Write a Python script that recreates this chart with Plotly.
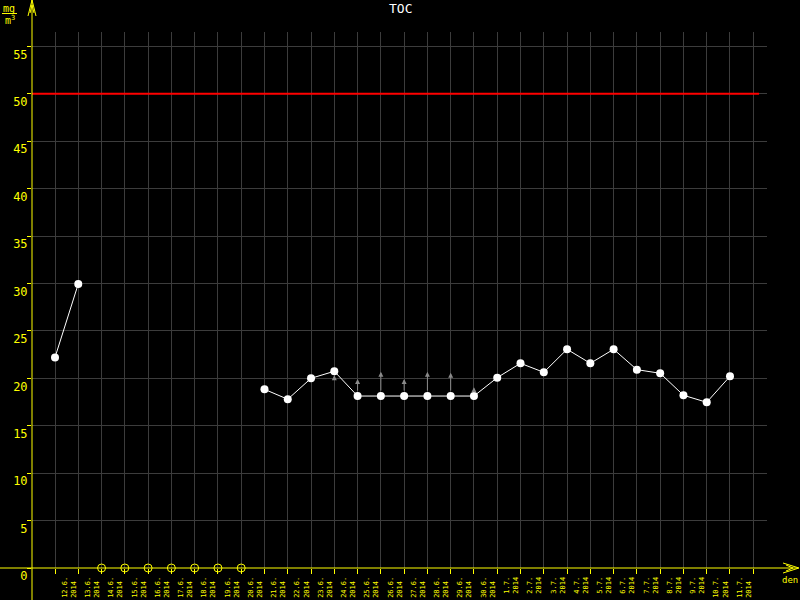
import plotly.graph_objects as go

# ---------------- data ----------------
dates = ["12.6.", "13.6.", "14.6.", "15.6.", "16.6.", "17.6.", "18.6.", "19.6.", "20.6.",
         "21.6.", "22.6.", "23.6.", "24.6.", "25.6.", "26.6.", "27.6.", "28.6.", "29.6.",
         "30.6.", "1.7.", "2.7.", "3.7.", "4.7.", "5.7.", "6.7.", "7.7.", "8.7.", "9.7.",
         "10.7.", "11.7."]
year = "2014"
toc = [22.2, 29.95, None, None, None, None, None, None, None,
       18.84, 17.79, 20.0, 20.74, 18.13, 18.13, 18.13, 18.13, 18.13,
       18.13, 20.07, 21.58, 20.63, 23.06, 21.58, 23.06, 20.91, 20.53, 18.21,
       17.47, 20.21]
missing_idx = [2, 3, 4, 5, 6, 7, 8]
limit_value = 50
arrow_idx = [12, 13, 14, 15, 16, 17, 18]
arrow_from = [19.8, 18.13, 18.13, 18.13, 18.13, 18.13, 18.13]
arrow_to = [20.74, 19.93, 20.7, 19.93, 20.7, 20.59, 19.05]
y_ticks = [0, 5, 10, 15, 20, 25, 30, 35, 40, 45, 50, 55]

# ---------------- geometry helpers ----------------
W, H = 800, 600
L, R, T, B = 32, 767, 32, 568


def px(x):
    return (x - L) / (R - L)


def py(y):
    return (B - y) / (B - T)


YEL = "#ffff00"
GRID = "#3c3c3c"
MONO = "DejaVu Sans Mono"

idx = list(range(len(dates)))
ticktext = []
for d in dates:
    y = year + "\u00a0" * max(0, len(d) - len(year))
    ticktext.append(d + "<br>" + y)

fig = go.Figure()

fig.add_trace(go.Scatter(
    x=idx, y=toc, mode="lines+markers",
    line=dict(color="white", width=1),
    marker=dict(color="white", size=8),
    connectgaps=False, showlegend=False, hoverinfo="skip"))

fig.add_trace(go.Scatter(
    x=missing_idx, y=[0] * len(missing_idx), mode="markers",
    marker=dict(symbol="circle-open", color=YEL, size=8, line=dict(width=1, color=YEL)),
    cliponaxis=False, showlegend=False, hoverinfo="skip"))

# arrows
for i, a0, a1 in zip(arrow_idx, arrow_from, arrow_to):
    fig.add_annotation(x=i, y=a1, ax=i, ay=a0, xref="x", yref="y", axref="x", ayref="y",
                       text="", showarrow=True, arrowhead=2, arrowsize=1, arrowwidth=1,
                       arrowcolor="#8a8a8a", standoff=4 if i == 12 else 0,
                       startstandoff=0 if i == 12 else 4)

shapes = []
# limit line
shapes.append(dict(type="line", xref="x", yref="y", x0=-0.988, x1=30.25,
                   y0=limit_value, y1=limit_value, line=dict(color="#ff0000", width=2),
                   layer="above"))
# axis lines
shapes.append(dict(type="line", xref="paper", yref="paper", x0=0, x1=0,
                   y0=py(0), y1=py(600), line=dict(color=YEL, width=1), layer="above"))
shapes.append(dict(type="line", xref="paper", yref="paper", x0=px(0), x1=px(798),
                   y0=0, y1=0, line=dict(color=YEL, width=1), layer="above"))


def seg(p0, p1):
    return dict(type="line", xref="paper", yref="paper", x0=px(p0[0]), y0=py(p0[1]),
                x1=px(p1[0]), y1=py(p1[1]), line=dict(color=YEL, width=1), layer="above")


# top arrow
shapes += [seg((32, 0), (28, 16)), seg((32, 0), (36, 16)),
           seg((32, 5), (30, 13)), seg((32, 5), (34, 13))]
# right arrow
shapes += [seg((799, 568), (783, 563)), seg((799, 568), (783, 573)),
           seg((793, 568), (786, 565)), seg((793, 568), (786, 571))]
# mg/m3 fraction line
shapes.append(dict(type="line", xref="paper", yref="paper", x0=px(2), x1=px(17),
                   y0=py(13.5), y1=py(13.5), line=dict(color=YEL, width=1)))

fig.update_layout(shapes=shapes)

fig.add_annotation(x=px(400), y=py(8), xref="paper", yref="paper", text="TOC",
                   showarrow=False, font=dict(family=MONO, size=13, color="white"),
                   xanchor="center", yanchor="middle")
fig.add_annotation(x=px(790), y=py(580), xref="paper", yref="paper", text="den",
                   showarrow=False, font=dict(family=MONO, size=9, color=YEL),
                   xanchor="center", yanchor="middle")
fig.add_annotation(x=px(9), y=py(8), xref="paper", yref="paper", text="mg",
                   showarrow=False, font=dict(family=MONO, size=10, color=YEL),
                   xanchor="center", yanchor="middle")
fig.add_annotation(x=px(10), y=py(20), xref="paper", yref="paper", text="m<sup>3</sup>",
                   showarrow=False, font=dict(family=MONO, size=10, color=YEL),
                   xanchor="center", yanchor="middle")

fig.update_xaxes(range=[-0.988, 30.59], tickvals=idx + [30], ticktext=ticktext + [""],
                 tickangle=-90, showgrid=True, gridcolor=GRID, gridwidth=1,
                 ticks="outside", ticklen=5, tickcolor=YEL, tickwidth=1,
                 tickfont=dict(family=MONO, size=7, color=YEL), automargin=False,
                 zeroline=False, showline=False, ticklabelshift=14, ticklabelstandoff=0,
                 fixedrange=True)
fig.update_yaxes(range=[0, 56.51], tickvals=y_ticks, showgrid=True, gridcolor=GRID,
                 gridwidth=1, ticks="outside", ticklen=4, tickcolor=YEL, tickwidth=1,
                 tickfont=dict(family=MONO, size=12, color=YEL), automargin=False,
                 zeroline=False, showline=False, ticklabelshift=8, ticklabelstandoff=-3,
                 fixedrange=True)

fig.update_layout(width=W, height=H, margin=dict(l=L, r=W - R, t=T, b=H - B),
                  paper_bgcolor="black", plot_bgcolor="black", showlegend=False)

fig.write_html("out.html", config={"displayModeBar": False, "staticPlot": True},
               post_script="document.body.style.margin='0';document.body.style.background='black';")
